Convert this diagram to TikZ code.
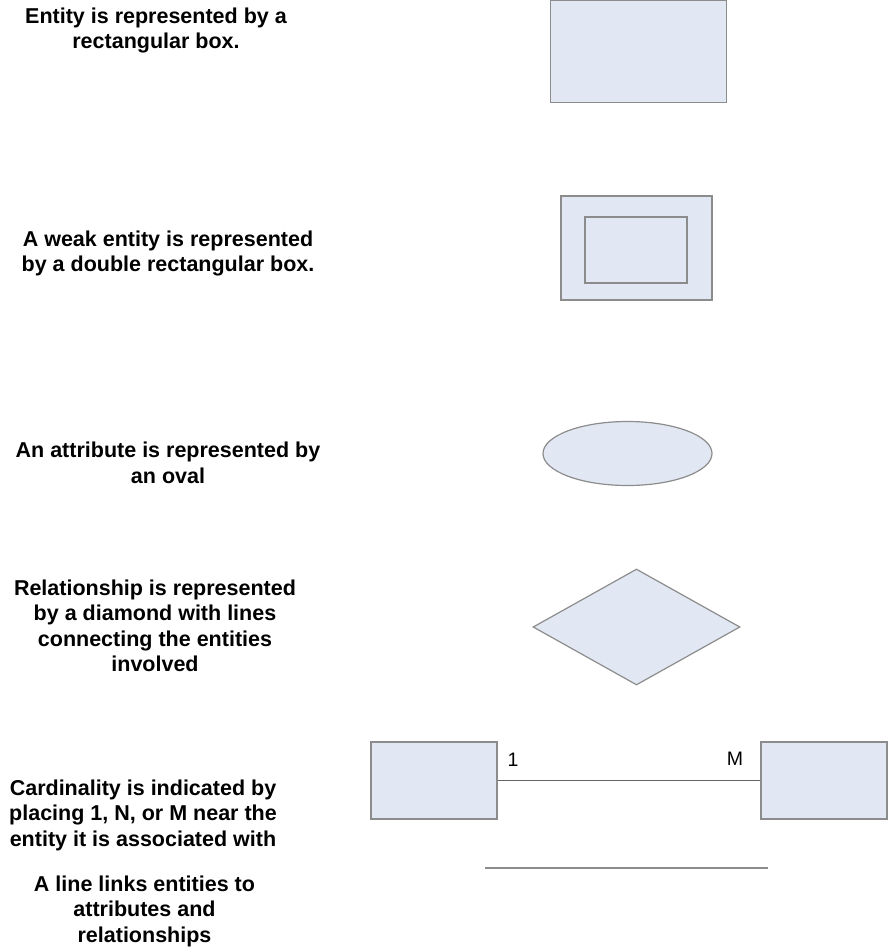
\documentclass[tikz,border=0pt]{standalone}
\usepackage{fontspec}
\setmainfont{Liberation Sans}
\usetikzlibrary{shapes.geometric}

\definecolor{shapefill}{RGB}{225,232,243}
\definecolor{shapeline}{RGB}{140,140,140}
\definecolor{linkline}{RGB}{100,100,100}

\tikzset{
  caption/.style={align=center, inner sep=0pt,
    font=\fontsize{21.5}{25.5}\selectfont\bfseries},
  entitybox/.style={draw=shapeline, fill=shapefill, line width=1.4pt,
    rectangle, inner sep=0pt},
  attroval/.style={draw=shapeline, fill=shapefill, line width=1.2pt,
    ellipse, inner sep=0pt},
  relshape/.style={draw=shapeline, fill=shapefill, line width=1.2pt,
    diamond, inner sep=0pt},
  cardlabel/.style={inner sep=0pt, font=\fontsize{19.5}{22}\selectfont},
  linkstyle/.style={draw=linkline, line width=1.3pt},
}

\begin{document}
\begin{tikzpicture}[x=1pt, y=-1pt]
\useasboundingbox (0,0) rectangle (889,948);

% Entity
\node[caption] (t1) at (156,30.5) {Entity is represented by a\\rectangular box.};
\node[entitybox, minimum width=176pt, minimum height=102pt] (entity) at (638.5,51.5) {};

% Weak entity
\node[caption] (t2) at (168,253.5) {A weak entity is represented\\by a double rectangular box.};
\node[entitybox, minimum width=151pt, minimum height=104pt] (weakouter) at (636.5,248) {};
\node[entitybox, minimum width=102pt, minimum height=66pt] (weakinner) at (636,250) {};

% Attribute
\node[caption] (t3) at (168,463) {An attribute is represented by\\an oval};
\node[attroval, minimum width=169pt, minimum height=64pt] (attr) at (627.5,453.5) {};

% Relationship
\node[caption] (t4) at (155,626) {Relationship is represented\\by a diamond with lines\\connecting the entities\\involved};
\node[relshape, minimum width=207pt, minimum height=116pt, aspect=1.78] (rel) at (636.5,627) {};

% Cardinality
\node[caption] (t5) at (143,815) {Cardinality is indicated by\\placing 1, N, or M near the\\entity it is associated with};
\node[entitybox, minimum width=126pt, minimum height=77pt] (left) at (434,780.5) {};
\node[entitybox, minimum width=126pt, minimum height=77pt] (right) at (824,780.5) {};
\draw[linkstyle] (left.east) -- (right.west);
\node[cardlabel] (one) at (513,760) {1};
\node[cardlabel] (many) at (735,759) {M};

% Plain link
\node[caption] (t6) at (144.5,911) {A line links entities to\\attributes and\\relationships};
\coordinate (linkA) at (485,868);
\coordinate (linkB) at (768,868);
\draw[draw=shapeline, line width=1.3pt] (linkA) -- (linkB);
\end{tikzpicture}
\end{document}
